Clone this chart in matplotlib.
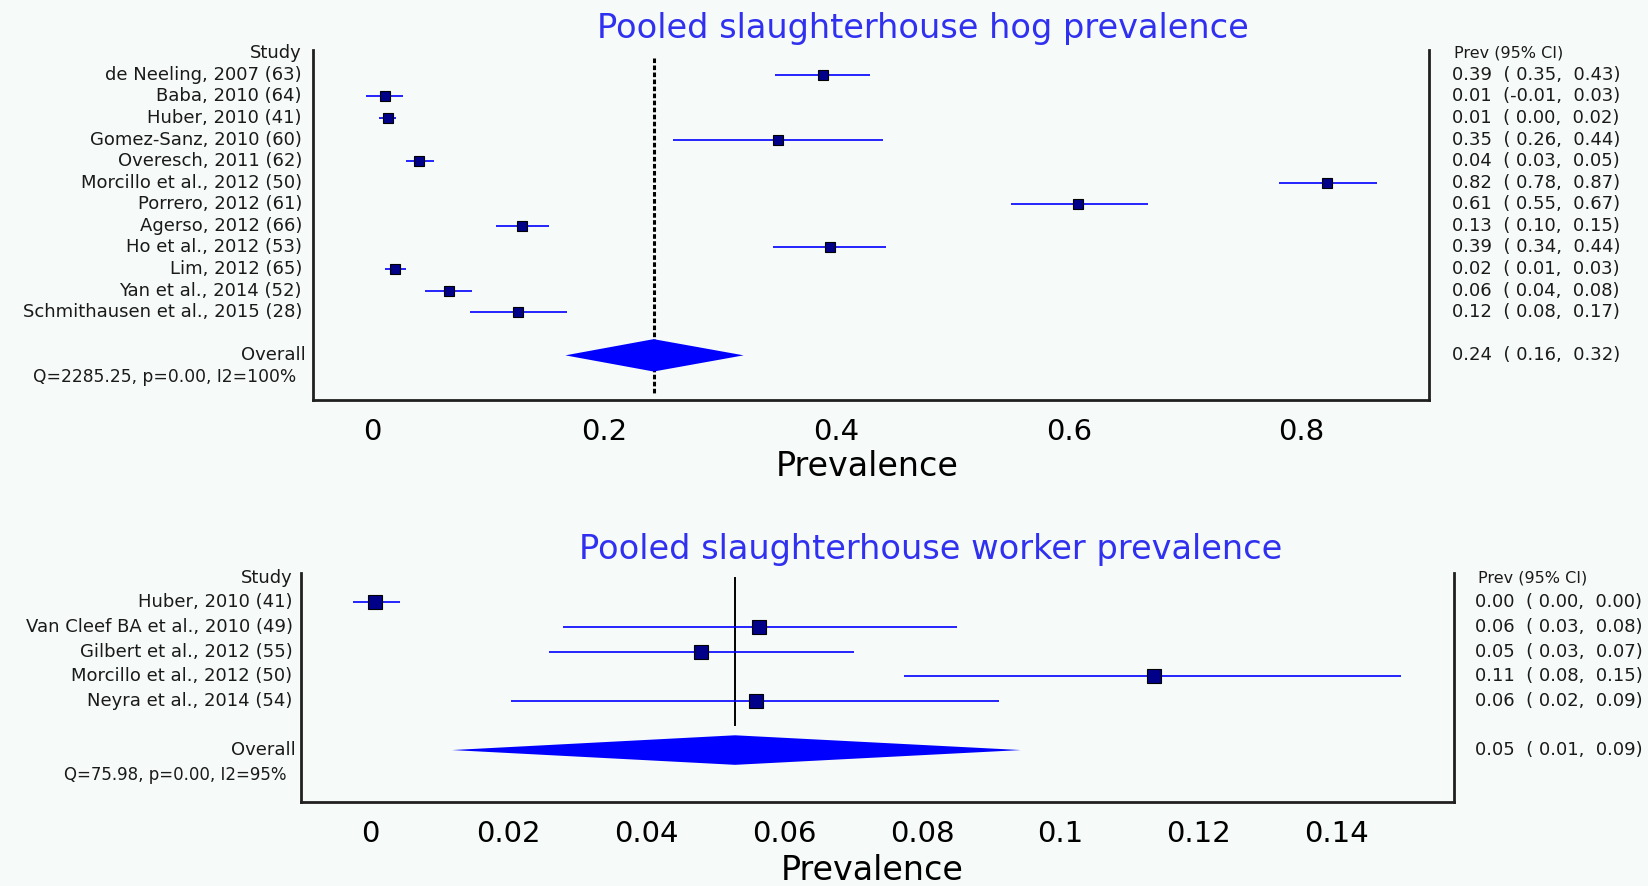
import matplotlib
matplotlib.use("Agg")
import matplotlib.pyplot as plt
import numpy as np

plt.rcParams['font.family'] = ['DejaVu Sans']

# ---------------- data: slaughterhouse hogs ----------------
hog_studies = ["de Neeling, 2007 (63)", "Baba, 2010 (64)", "Huber, 2010 (41)",
               "Gomez-Sanz, 2010 (60)", "Overesch, 2011 (62)", "Morcillo et al., 2012 (50)",
               "Porrero, 2012 (61)", "Agerso, 2012 (66)", "Ho et al., 2012 (53)",
               "Lim, 2012 (65)", "Yan et al., 2014 (52)", "Schmithausen et al., 2015 (28)"]
hog_prev = [0.388, 0.011, 0.0136, 0.350, 0.0407, 0.8226, 0.608, 0.129, 0.3946, 0.0199, 0.066, 0.126]
hog_lo = [0.347, -0.0054, 0.006, 0.259, 0.029, 0.781, 0.550, 0.107, 0.345, 0.011, 0.046, 0.084]
hog_hi = [0.429, 0.027, 0.021, 0.440, 0.053, 0.865, 0.668, 0.152, 0.4425, 0.029, 0.086, 0.168]
hog_ci_text = ["0.39  ( 0.35,  0.43)", "0.01  (-0.01,  0.03)", "0.01  ( 0.00,  0.02)",
               "0.35  ( 0.26,  0.44)", "0.04  ( 0.03,  0.05)", "0.82  ( 0.78,  0.87)",
               "0.61  ( 0.55,  0.67)", "0.13  ( 0.10,  0.15)", "0.39  ( 0.34,  0.44)",
               "0.02  ( 0.01,  0.03)", "0.06  ( 0.04,  0.08)", "0.12  ( 0.08,  0.17)"]
hog_overall = [0.2425, 0.1665, 0.320]   # estimate, lower, upper
hog_overall_text = "0.24  ( 0.16,  0.32)"
hog_het = "Q=2285.25, p=0.00, I2=100%"
hog_ticks = [0, 0.2, 0.4, 0.6, 0.8]
hog_ticklabels = ["0", "0.2", "0.4", "0.6", "0.8"]

# ---------------- data: slaughterhouse workers ----------------
wk_studies = ["Huber, 2010 (41)", "Van Cleef BA et al., 2010 (49)", "Gilbert et al., 2012 (55)",
              "Morcillo et al., 2012 (50)", "Neyra et al., 2014 (54)"]
wk_prev = [0.0008, 0.0564, 0.048, 0.1136, 0.0559]
wk_lo = [-0.0024, 0.0279, 0.0259, 0.0774, 0.0204]
wk_hi = [0.0043, 0.0851, 0.0701, 0.1494, 0.0911]
wk_ci_text = ["0.00  ( 0.00,  0.00)", "0.06  ( 0.03,  0.08)", "0.05  ( 0.03,  0.07)",
              "0.11  ( 0.08,  0.15)", "0.06  ( 0.02,  0.09)"]
wk_overall = [0.0529, 0.0119, 0.0943]
wk_overall_text = "0.05  ( 0.01,  0.09)"
wk_het = "Q=75.98, p=0.00, I2=95%"
wk_ticks = [0, 0.02, 0.04, 0.06, 0.08, 0.10, 0.12, 0.14]
wk_ticklabels = ["0", "0.02", "0.04", "0.06", "0.08", "0.1", "0.12", "0.14"]

BG = '#f6faf8'
BLUE = '#0000ff'
NAVY = '#000088'
TITLE_C = '#3030f0'
TXT = '#1a1a1a'

fig = plt.figure(figsize=(16.48, 8.86), dpi=100, facecolor=BG)


def forest(ax, studies, prev, lo, hi, ci_text, overall, overall_text, het,
           ticks, ticklabels, xlim, ylim, msize, dia_h, left_off, right_off,
           ref_style, ref_span, fs, fs_het):
    ax.set_facecolor(BG)
    n = len(studies)
    rows = np.arange(1, n + 1)
    orow = n + 2
    qrow = n + 3
    # reference line
    if ref_style == 'dotted':
        ax.plot([overall[0], overall[0]], ref_span, color='black', lw=2.2,
                linestyle=(0, (1.5, 0.8)), zorder=1)
    else:
        ax.plot([overall[0], overall[0]], ref_span, color='black', lw=1.4, zorder=1)
    # CIs and points
    ax.hlines(rows, lo, hi, color=BLUE, lw=1.2, zorder=2)
    ax.plot(prev, rows, 's', color=NAVY, mec='black', mew=0.8, ms=msize,
            linestyle='none', zorder=3)
    # diamond
    e, l, h = overall
    ax.fill([l, e, h, e], [orow, orow - dia_h, orow, orow + dia_h], color=BLUE,
            lw=0, zorder=2)
    ax.set_xlim(*xlim)
    ax.set_ylim(*ylim)
    ax.set_yticks([])
    ax.set_xticks(ticks)
    ax.set_xticklabels(ticklabels)
    ax.tick_params(axis='x', length=0, pad=13, labelsize=21, colors='black')
    ax.spines['top'].set_visible(False)
    for s in ['left', 'right', 'bottom']:
        ax.spines[s].set_color('#202020')
        ax.spines[s].set_linewidth(2)
    tr = ax.get_yaxis_transform()
    ax.text(left_off, 0, "Study", ha='right', va='center', fontsize=fs, color=TXT,
            transform=tr)
    for r, s in zip(rows, studies):
        ax.text(left_off, r, s, ha='right', va='center', fontsize=fs, color=TXT,
                transform=tr)
    ax.text(left_off + 0.003, orow, "Overall", ha='right', va='center', fontsize=fs,
            color=TXT, transform=tr)
    ax.text(left_off - 0.005, qrow, het, ha='right', va='center', fontsize=fs_het,
            color=TXT, transform=tr)
    ax.text(right_off + 0.002, 0, "Prev (95% CI)", ha='left', va='center', fontsize=fs - 1.5,
            color=TXT, transform=tr)
    for r, s in zip(rows, ci_text):
        ax.text(right_off, r, s, ha='left', va='center', fontsize=fs, color=TXT,
                transform=tr)
    ax.text(right_off, orow, overall_text, ha='left', va='center', fontsize=fs,
            color=TXT, transform=tr)


ax1 = fig.add_axes([0.190, 0.549, 0.677, 0.3946])
forest(ax1, hog_studies, hog_prev, hog_lo, hog_hi, hog_ci_text, hog_overall,
       hog_overall_text, hog_het, hog_ticks, hog_ticklabels,
       xlim=(-0.0507, 0.910), ylim=(16.05, -0.15), msize=6.5, dia_h=0.75,
       left_off=-0.010, right_off=1.021, ref_style='dotted', ref_span=[0.2, 15.8],
       fs=13, fs_het=12.3)

ax2 = fig.add_axes([0.1824, 0.0948, 0.6996, 0.2587])
forest(ax2, wk_studies, wk_prev, wk_lo, wk_hi, wk_ci_text, wk_overall,
       wk_overall_text, wk_het, wk_ticks, wk_ticklabels,
       xlim=(-0.01005, 0.157), ylim=(9.11, -0.2), msize=9.5, dia_h=0.6,
       left_off=-0.007, right_off=1.019, ref_style='solid', ref_span=[0.0, 6.0],
       fs=13, fs_het=12)

fig.text(0.560, 0.968, "Pooled slaughterhouse hog prevalence", ha='center', va='center',
         fontsize=24.2, color=TITLE_C)
fig.text(0.565, 0.380, "Pooled slaughterhouse worker prevalence", ha='center', va='center',
         fontsize=24.2, color=TITLE_C)
fig.text(0.526, 0.473, "Prevalence", ha='center', va='center', fontsize=24, color='black')
fig.text(0.529, 0.018, "Prevalence", ha='center', va='center', fontsize=24, color='black')

fig.savefig("out.png", dpi=100, facecolor=BG)
